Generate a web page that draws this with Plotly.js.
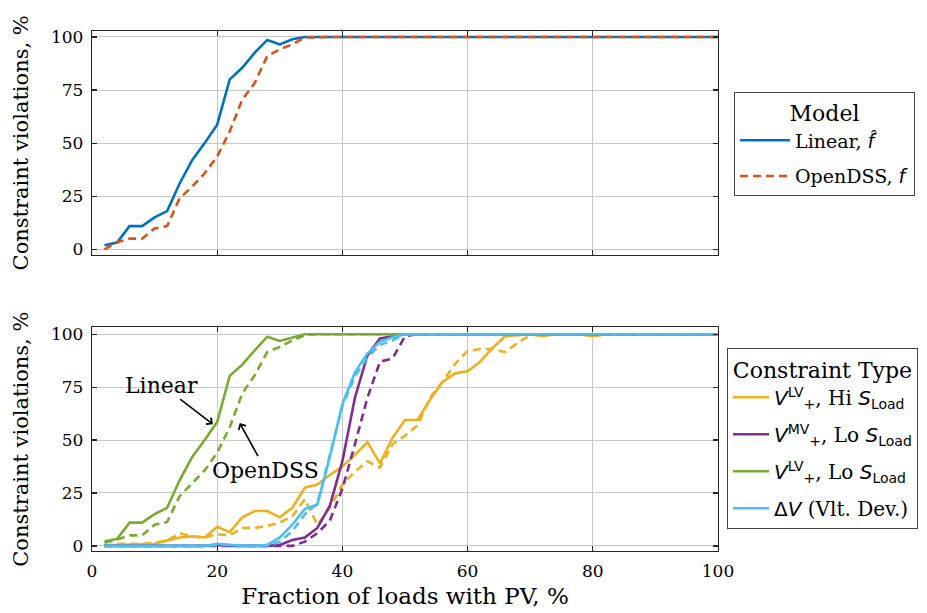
<!DOCTYPE html>
<html><head><meta charset="utf-8">
<script src="https://cdn.plot.ly/plotly-3.0.1.min.js"></script>
<style>html,body{margin:0;padding:0;background:#fff}</style>
</head><body><div id="chart" style="width:927px;height:613px"></div>
<script>
// Fraction of loads with PV, %
const xPV = [2,4,6,8,10,12,14,16,18,20,22,24,26,28,30,32,34,36,38,40,42,44,46,48,50,
             52,54,56,58,60,62,64,66,68,70,72,74,76,78,80,82,84,86,88,90,92,94,96,98,100];

// Top panel: Model
const linearAll = [1.9,3.2,10.9,10.9,15,18,31,42,50,58.7,80,85.5,92.6,98.6,96.5,98.9,100,100,100,100,100,100,100,100,100,
                   100,100,100,100,100,100,100,100,100,100,100,100,100,100,100,100,100,100,100,100,100,100,100,100,100];
const opendssAll = [0,3.3,5,5,9.8,10.9,24,29.5,35.8,43.7,55.5,70.5,78.4,91,94.2,96.5,99.7,100,100,100,100,100,100,100,100,
                    100,100,100,100,100,100,100,100,100,100,100,100,100,100,100,100,100,100,100,100,100,100,100,100,100];

// Bottom panel: Constraint type (Linear = solid, OpenDSS = dashed)
const lvHiLin = [0.3,0.5,0.5,1,1,2.5,4,4.5,4,9,6.5,13.5,16.5,16.5,13.5,18,27.5,29,33.5,37.5,43,49,39,51,59.5,
                 59.5,69,77.5,81.5,82.5,87,93.5,99,99.5,100,99,100,100,100,99,100,100,100,100,100,100,100,100,100,100];
const lvHiDss = [0,1,1,1,1.5,2.5,6,4.5,4,5.5,5,8.5,8.5,9.5,11,14,22,10,18,29,35,40,37,48,52,
                 57,70,77.5,86,92,93,93,91.5,96,99.5,100,100,100,100,99,100,100,100,100,100,100,100,100,100,100];
const mvLoLin = [0,0,0,0,0,0,0,0,0,0.5,0,0,0,0,0.5,2.8,4,8.5,19,40,70,90,98,99,100,
                 100,100,100,100,100,100,100,100,100,100,100,100,100,100,100,100,100,100,100,100,100,100,100,100,100];
const mvLoDss = [0,0,0,0,0,0,0,0,0,0,0,0,0,0,0,0,2,6,12,27,48,70,87,88.5,99,
                 100,100,100,100,100,100,100,100,100,100,100,100,100,100,100,100,100,100,100,100,100,100,100,100,100];
const lvLoLin = [2.2,3.3,11,11,15,18,31,42,50,58.6,80.3,85.6,92.4,98.8,96.8,98.5,100,100,100,100,100,100,100,100,100,
                 100,100,100,100,100,100,100,100,100,100,100,100,100,100,100,100,100,100,100,100,100,100,100,100,100];
const lvLoDss = [1.5,3,5,5,10,11.3,23.5,29.4,35.7,44,56,72,80.6,91.6,94,97,99.5,100,100,100,100,100,100,100,100,
                 100,100,100,100,100,100,100,100,100,100,100,100,100,100,100,100,100,100,100,100,100,100,100,100,100];
const dvLin = [0,0,0,0,0,0,0,0,0,1,0.5,0,0,0.5,4,10,17.5,19.5,42,67,82,91,96.5,98.5,100,
               100,100,100,100,100,100,100,100,100,100,100,100,100,100,100,100,100,100,100,100,100,100,100,100,100];
const dvDss = [0,0,0,0,0,0,0,0,0,0.5,0.3,0,0,0,2,7,15,20,43,66,80,89,95,97,100,
               100,100,100,100,100,100,100,100,100,100,100,100,100,100,100,100,100,100,100,100,100,100,100,100,100];

const yTicks = [0,25,50,75,100];
const xTicks = [0,20,40,60,80,100];

const C = {blue:'#0072BD', orange:'#D95319', yellow:'#EDB120', purple:'#7E2F8E', green:'#77AC30', cyan:'#4DBEEE'};
const W = 2.6, DASH = '8px,5px';
const sans = s => '<span style="font-family:DejaVu Sans">' + s + '</span>';

const traces = [
  {x:xPV, y:linearAll, xaxis:'x', yaxis:'y', mode:'lines', name:'Linear, ' + sans('<i>f̂</i>'),
   line:{color:C.blue, width:W}, legend:'legend', legendgroup:'a'},
  {x:xPV, y:opendssAll, xaxis:'x', yaxis:'y', mode:'lines', name:'OpenDSS, ' + sans('<i>f</i>'),
   line:{color:C.orange, width:W, dash:DASH}, legend:'legend', legendgroup:'b'},

  {x:xPV, y:lvHiLin, xaxis:'x2', yaxis:'y2', mode:'lines', legend:'legend2', legendgroup:'c',
   name: sans('<i>V</i><sup>LV</sup><sub>+</sub>') + ', Hi ' + sans('<i>S</i><sub>Load</sub>'),
   line:{color:C.yellow, width:W}},
  {x:xPV, y:lvHiDss, xaxis:'x2', yaxis:'y2', mode:'lines', showlegend:false,
   line:{color:C.yellow, width:W, dash:DASH}},
  {x:xPV, y:mvLoLin, xaxis:'x2', yaxis:'y2', mode:'lines', legend:'legend2', legendgroup:'d',
   name: sans('<i>V</i><sup>MV</sup><sub>+</sub>') + ', Lo ' + sans('<i>S</i><sub>Load</sub>'),
   line:{color:C.purple, width:W}},
  {x:xPV, y:mvLoDss, xaxis:'x2', yaxis:'y2', mode:'lines', showlegend:false,
   line:{color:C.purple, width:W, dash:DASH}},
  {x:xPV, y:lvLoLin, xaxis:'x2', yaxis:'y2', mode:'lines', legend:'legend2', legendgroup:'e',
   name: sans('<i>V</i><sup>LV</sup><sub>+</sub>') + ', Lo ' + sans('<i>S</i><sub>Load</sub>'),
   line:{color:C.green, width:W}},
  {x:xPV, y:lvLoDss, xaxis:'x2', yaxis:'y2', mode:'lines', showlegend:false,
   line:{color:C.green, width:W, dash:DASH}},
  {x:xPV, y:dvLin, xaxis:'x2', yaxis:'y2', mode:'lines', legend:'legend2', legendgroup:'f',
   name: sans('Δ<i>V</i>') + ' (Vlt. Dev.)',
   line:{color:C.cyan, width:W}},
  {x:xPV, y:dvDss, xaxis:'x2', yaxis:'y2', mode:'lines', showlegend:false,
   line:{color:C.cyan, width:W, dash:DASH}}
];

const axisCommon = {
  showline:true, linecolor:'#262626', linewidth:1.2, mirror:'allticks',
  ticks:'inside', ticklen:5, tickcolor:'#262626', tickwidth:1.2,
  showgrid:true, gridcolor:'#c8c8c8', gridwidth:1, zeroline:false,
  tickfont:{size:17, color:'#000'}
};

const layout = {
  width:927, height:613,
  margin:{l:92, r:209, t:31, b:62, autoexpand:false},
  paper_bgcolor:'#fff', plot_bgcolor:'#fff',
  font:{family:'DejaVu Serif', color:'#000'},
  showlegend:true,
  xaxis: Object.assign({}, axisCommon, {domain:[0,1], range:[0,100], tickvals:xTicks, anchor:'y', showticklabels:false}),
  yaxis: Object.assign({}, axisCommon, {domain:[0.57,1], range:[-2.5,102.8], tickvals:yTicks, anchor:'x',
          ticklabelstandoff:4, automargin:false,
          title:{text:'Constraint violations, %', font:{size:21}, standoff:16}}),
  xaxis2: Object.assign({}, axisCommon, {domain:[0,1], range:[0,100], tickvals:xTicks, anchor:'y2',
          ticklabelstandoff:4, automargin:false,
          title:{text:'Fraction of loads with PV, %', font:{size:23}, standoff:8}}),
  yaxis2: Object.assign({}, axisCommon, {domain:[0,0.43], range:[-2.4,103.2], tickvals:yTicks, anchor:'x2',
          ticklabelstandoff:4, automargin:false,
          title:{text:'Constraint violations, %', font:{size:21}, standoff:16}}),
  legend:{x:1.0256, y:0.883, xanchor:'left', yanchor:'top', bgcolor:'#fff',
          bordercolor:'#444', borderwidth:1, font:{size:19}, tracegroupgap:8, itemwidth:50,
          title:{text:'Model', side:'top center', font:{size:22}}},
  legend2:{x:1.0144, y:0.39, xanchor:'left', yanchor:'top', bgcolor:'#fff',
          bordercolor:'#444', borderwidth:1, font:{size:20}, tracegroupgap:8, itemwidth:36,
          title:{text:'Constraint Type', side:'top center', font:{size:22}}},
  annotations:[
    {xref:'x2', yref:'y2', x:19.3, y:57.5, ax:-51, ay:-39, text:'Linear', showarrow:true,
     arrowhead:4, arrowsize:1, arrowwidth:1.6, arrowcolor:'#000', font:{size:22, color:'#000'}},
    {xref:'x2', yref:'y2', x:23.6, y:58, ax:26, ay:47, text:'OpenDSS', showarrow:true,
     arrowhead:4, arrowsize:1, arrowwidth:1.6, arrowcolor:'#000', font:{size:22, color:'#000'}}
  ]
};

Plotly.newPlot('chart', traces, layout, {staticPlot:true, displayModeBar:false});
</script>
</body></html>
